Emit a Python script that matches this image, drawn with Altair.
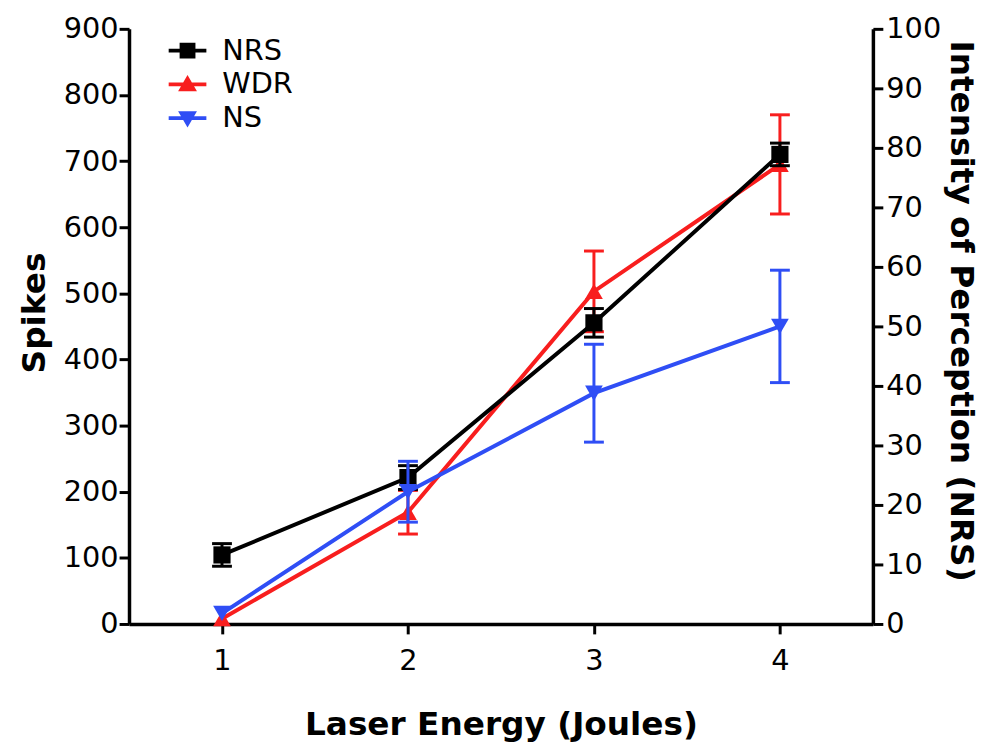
import altair as alt
import pandas as pd

# ---- data ----
energy = [1, 2, 3, 4]
series_names = ["NRS", "WDR", "NS"]
series_colors = ["#000000", "#F81E1E", "#2F4EF5"]

nrs_mean = [11.6, 24.6, 50.6, 78.9]   # right axis (0-100)
nrs_err = [1.9, 2.0, 2.4, 1.9]
wdr_mean = [8, 169, 503, 695]         # left axis (spikes)
wdr_err = [0, 33, 61, 75]
ns_mean = [16, 200, 349, 450]         # left axis (spikes)
ns_err = [0, 46, 74, 85]

left_ticks = list(range(0, 901, 100))
right_ticks = list(range(0, 101, 10))

# legend symbols: a horizontal line with the marker on top (unit coordinates)
legend_paths = [
    "M-1,-0.1H1V0.1H-1Z M-0.42,-0.42H0.42V0.42H-0.42Z",
    "M-1,-0.1H1V0.1H-1Z M0,-0.5L0.5,0.36H-0.5Z",
    "M-1,-0.1H1V0.1H-1Z M-0.5,-0.36H0.5L0,0.5Z",
]


def frame(name, mean, err):
    return pd.DataFrame({"series": name, "energy": energy, "mean": mean, "err": err})


xscale = alt.Scale(domain=[0.5, 4.5], nice=False, zero=False)
xaxis = alt.Axis(values=energy, title="Laser Energy (Joules)", format="d",
                 labelPadding=13, titlePadding=33)


def group(df, color, shape, size, yscale, yaxis, ytitle):
    base = alt.Chart(df).encode(x=alt.X("energy:Q", scale=xscale, axis=xaxis))
    line = base.mark_line(color=color, strokeWidth=4).encode(
        y=alt.Y("mean:Q", scale=yscale, axis=yaxis, title=ytitle))
    eb = base.transform_filter("datum.err > 0").transform_calculate(
        lo="datum.mean - datum.err", hi="datum.mean + datum.err")
    rule = eb.mark_rule(color=color, strokeWidth=3, opacity=1).encode(
        y=alt.Y("lo:Q", scale=yscale, axis=yaxis, title=ytitle), y2="hi:Q")
    cap_lo = eb.mark_tick(color=color, orient="horizontal", size=20, thickness=3, opacity=1).encode(
        y=alt.Y("lo:Q", scale=yscale, axis=yaxis, title=ytitle))
    cap_hi = eb.mark_tick(color=color, orient="horizontal", size=20, thickness=3, opacity=1).encode(
        y=alt.Y("hi:Q", scale=yscale, axis=yaxis, title=ytitle))
    pts = base.mark_point(filled=True, shape=shape, size=size, color=color, opacity=1).encode(
        y=alt.Y("mean:Q", scale=yscale, axis=yaxis, title=ytitle))
    return alt.layer(line, rule, cap_lo, cap_hi, pts)


left_scale = alt.Scale(domain=[0, 900], nice=False)
right_scale = alt.Scale(domain=[0, 100], nice=False)

left_axis = alt.Axis(values=left_ticks, format="d", titleY=286, titlePadding=12,
                     labelPadding=1, labelFlush=False, orient="left")
right_axis = alt.Axis(values=right_ticks, format="d", titleY=284, titlePadding=3,
                      labelPadding=3, labelFlush=False, orient="right")

red = group(frame("WDR", wdr_mean, wdr_err), series_colors[1], "triangle-up", 320,
            left_scale, left_axis, "Spikes")
black = group(frame("NRS", nrs_mean, nrs_err), series_colors[0], "square", 300,
              right_scale, right_axis, "Intensity of Perception (NRS)")
blue = group(frame("NS", ns_mean, ns_err), series_colors[2], "triangle-down", 320,
             left_scale, None, None)

legend_df = pd.DataFrame({"series": series_names})
leg = alt.Legend(title=None, orient="none", legendX=40, legendY=3, padding=0,
                 symbolSize=1444, symbolStrokeWidth=0, symbolOpacity=1,
                 labelFont="DejaVu Sans", labelFontSize=29, labelColor="black",
                 labelOffset=16, rowPadding=-12)
legend_layer = alt.Chart(legend_df).mark_point(filled=True, opacity=0).encode(
    x=alt.value(0), y=alt.value(0),
    color=alt.Color("series:N", scale=alt.Scale(domain=series_names, range=series_colors), legend=leg),
    shape=alt.Shape("series:N", scale=alt.Scale(domain=series_names, range=legend_paths), legend=leg),
)

chart = alt.layer(red, black, blue, legend_layer).resolve_scale(
    y="independent"
).properties(
    width=750, height=600,
    padding={"left": 122, "top": 18, "right": 111, "bottom": 118},
    autosize=alt.AutoSizeParams(type="none"),
    background="white",
).configure_view(stroke=None).configure_axis(
    domainColor="black", domainWidth=3.5, tickColor="black", tickWidth=3, tickSize=10,
    labelFont="DejaVu Sans", labelFontSize=29, labelColor="black",
    titleFont="DejaVu Sans", titleFontSize=33, titleFontWeight="bold", titleColor="black",
    grid=False,
)

chart.save("out.html", embed_options={"renderer": "svg", "actions": False})
